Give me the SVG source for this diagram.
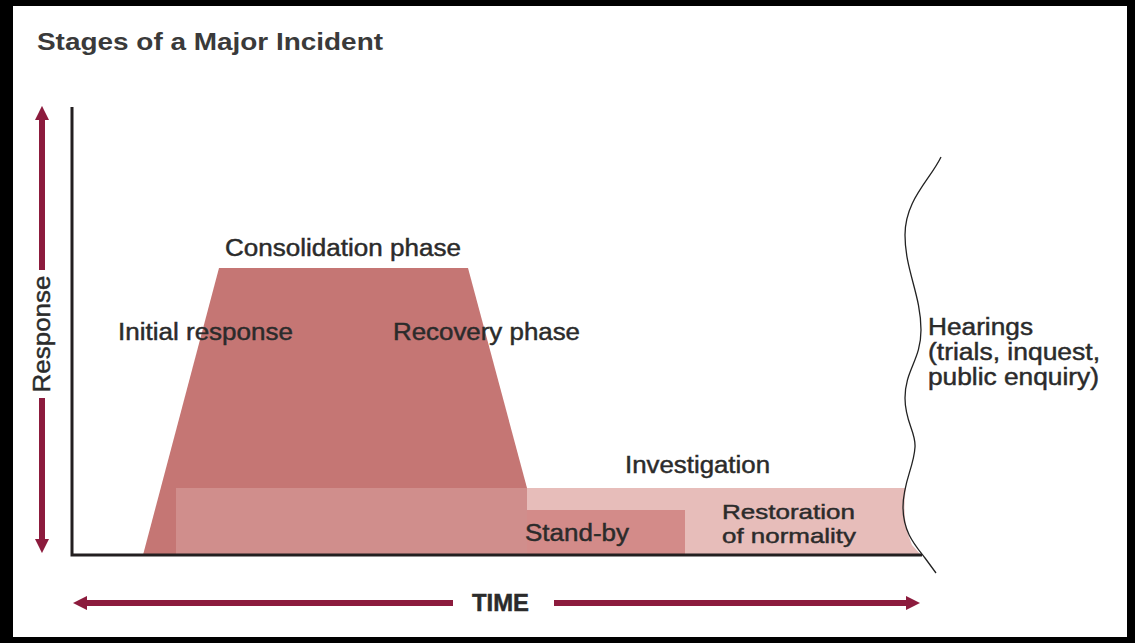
<svg xmlns="http://www.w3.org/2000/svg" width="1135" height="643" viewBox="0 0 1135 643">
<style>
.t{font-family:"Liberation Sans",Arial,Helvetica,sans-serif;font-size:23px;fill:#2b2b2b;stroke:#2b2b2b;stroke-width:0.45px}
.s{font-size:21px}
.title{font-family:"Liberation Sans",Arial,Helvetica,sans-serif;font-size:24.5px;font-weight:bold;fill:#3a3a3a}
.bar{stroke:#8c1b3d;stroke-width:6;fill:none}
.axis{stroke:#231f20;fill:none}
</style>
<defs>
<marker id="ah" viewBox="0 0 10 10" refX="3" refY="5" markerWidth="2.4" markerHeight="2.4" orient="auto-start-reverse" markerUnits="strokeWidth">
<path d="M0,0 L10,5 L0,10 z" fill="#8c1b3d"/>
</marker>
</defs>
<rect x="0" y="0" width="1135" height="643" fill="#000"/>
<rect x="13" y="6" width="1114" height="631" fill="#fff"/>

<g id="title"><text class="title" x="37" y="50" textLength="346" lengthAdjust="spacingAndGlyphs">Stages of a Major Incident</text></g>

<g id="investigation-band"><path d="M176,488 L906,488 Q901,520 912,545 L921,555 L176,555 Z" fill="#e7bdba"/></g>
<g id="response-phases"><polygon points="143,555 219,268 468,268 527,488 527,555" fill="#c57674"/></g>
<g id="overlap"><rect x="176" y="488" width="351" height="67" fill="#d08e8c"/></g>
<g id="standby"><rect x="527" y="510" width="158" height="45" fill="#d38b89"/>
<text class="t" x="525" y="541" textLength="104" lengthAdjust="spacingAndGlyphs">Stand-by</text></g>

<g id="consolidation"><text class="t" x="225" y="256" textLength="236" lengthAdjust="spacingAndGlyphs">Consolidation phase</text></g>
<g id="initial"><text class="t" x="118" y="340" textLength="175" lengthAdjust="spacingAndGlyphs">Initial response</text></g>
<g id="recovery"><text class="t" x="393" y="340" textLength="187" lengthAdjust="spacingAndGlyphs">Recovery phase</text></g>
<g id="investigation"><text class="t" x="625" y="473" textLength="145" lengthAdjust="spacingAndGlyphs">Investigation</text></g>
<g id="restoration"><text class="t s" x="722" y="519" textLength="133" lengthAdjust="spacingAndGlyphs">Restoration</text>
<text class="t s" x="722" y="543" textLength="134" lengthAdjust="spacingAndGlyphs">of normality</text></g>
<g id="hearings">
<path d="M941,157 C930,180 905,200 905,235 C905,270 921,295 921,330 C921,360 905,370 905,398 C905,422 916,432 915,447 C914,467 903,482 903,507 C903,532 915,545 925,558 L936,573" fill="none" stroke="#222" stroke-width="1.3"/>
<text class="t" x="928" y="335" textLength="105" lengthAdjust="spacingAndGlyphs">Hearings</text>
<text class="t" x="928" y="360" textLength="172" lengthAdjust="spacingAndGlyphs">(trials, inquest,</text>
<text class="t" x="928" y="385" textLength="171" lengthAdjust="spacingAndGlyphs">public enquiry)</text>
</g>

<g id="connectors">
<path class="axis" d="M72,107 L72,555 L922,555" stroke-width="3"/>
<line class="bar" x1="42" y1="270" x2="42" y2="116" marker-end="url(#ah)"/>
<line class="bar" x1="42" y1="398" x2="42" y2="543" marker-end="url(#ah)"/>
<line class="bar" x1="453" y1="603" x2="83" y2="603" marker-end="url(#ah)"/>
<line class="bar" x1="554" y1="603" x2="910" y2="603" marker-end="url(#ah)"/>
</g>
<g id="response-label"><text class="t" transform="translate(50,334) rotate(-90)" text-anchor="middle" textLength="117" lengthAdjust="spacingAndGlyphs">Response</text></g>
<g id="time-label"><text class="t" x="472" y="611" font-weight="bold" font-size="24" textLength="57" lengthAdjust="spacingAndGlyphs">TIME</text></g>
</svg>
